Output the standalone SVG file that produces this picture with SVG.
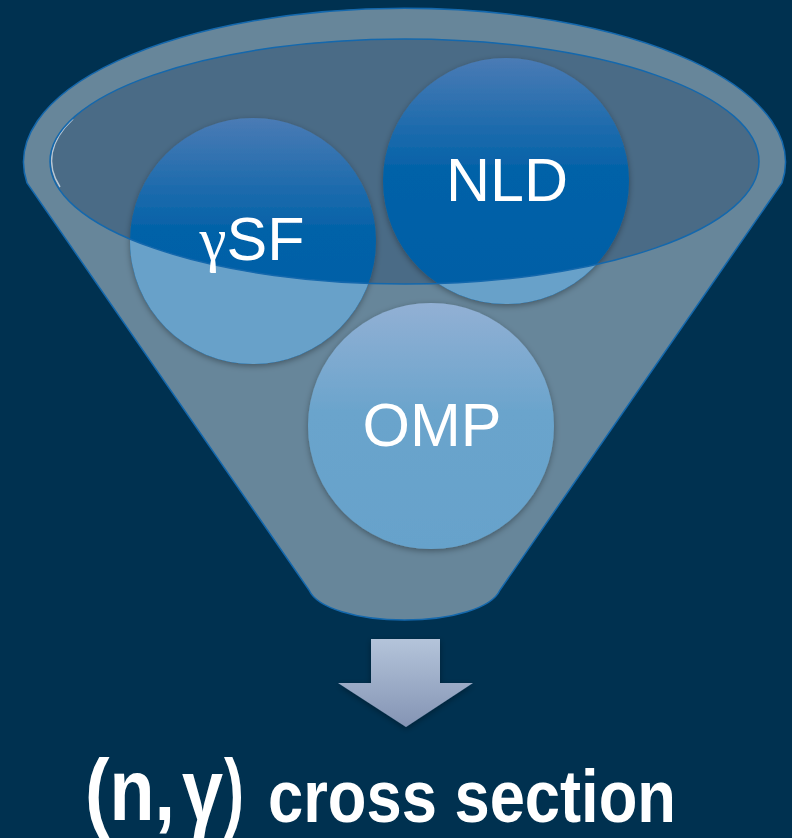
<svg xmlns="http://www.w3.org/2000/svg" width="792" height="838" viewBox="0 0 792 838">
<style>
.lbl{font-family:"Liberation Sans",Arial,sans-serif;font-size:61px;fill:#ffffff;text-anchor:middle}
.greek{font-family:"Liberation Serif","Times New Roman",serif}
.title{font-family:"Liberation Sans",Arial,sans-serif;font-weight:bold;fill:#ffffff}
.rim{fill:none;stroke:#1468ad;stroke-width:1.5}
</style>
<defs>
<linearGradient id="gDark" x1="0" y1="0" x2="0" y2="1">
<stop offset="0" stop-color="#4a7bb5"/>
<stop offset="0.45" stop-color="#0462a8"/>
<stop offset="1" stop-color="#005ea6"/>
</linearGradient>
<linearGradient id="gOmp" x1="0" y1="0" x2="0" y2="1">
<stop offset="0" stop-color="#92b0d4"/>
<stop offset="0.45" stop-color="#6aa4cc"/>
<stop offset="1" stop-color="#66a2cb"/>
</linearGradient>
<linearGradient id="gArrow" x1="0" y1="0" x2="0" y2="1">
<stop offset="0" stop-color="#b4c4da"/>
<stop offset="1" stop-color="#8494b4"/>
</linearGradient>
<clipPath id="below">
<path clip-rule="evenodd" d="M0,0H792V838H0Z M50,161.5 A354.5,122.5 0 1 0 759,161.5 A354.5,122.5 0 1 0 50,161.5Z"/>
</clipPath>
<filter id="sh" x="-20%" y="-20%" width="140%" height="140%">
<feDropShadow dx="0" dy="2" stdDeviation="3" flood-color="#000" flood-opacity="0.35"/>
</filter>
</defs>
<rect width="792" height="838" fill="#003150"/>
<g id="funnel">
<path d="M27,183 A381,154 0 1 1 782,183 L500,590 C492,608 452,620 404.5,620 C357,620 317,608 309,590 Z" fill="#67869a" stroke="#1468ad" stroke-width="1.5"/>
<ellipse cx="404.5" cy="161.5" rx="354.5" ry="122.5" fill="#4a6b86"/>
<path d="M73,119 A353,121 0 0 0 60,187" fill="none" stroke="#c4d2de" stroke-width="1.5" stroke-opacity="0.9"/>
</g>
<g id="node-gsf">
<circle cx="253" cy="241" r="123" fill="url(#gDark)" filter="url(#sh)"/>
<circle cx="253" cy="241" r="123" fill="#68a1c9" clip-path="url(#below)"/>
</g>
<g id="node-nld">
<circle cx="506" cy="181" r="123" fill="url(#gDark)" filter="url(#sh)"/>
<circle cx="506" cy="181" r="123" fill="#68a1c9" clip-path="url(#below)"/>
</g>
<g id="node-omp">
<circle cx="431" cy="426" r="123" fill="url(#gOmp)" filter="url(#sh)"/>
</g>
<ellipse class="rim" cx="404.5" cy="161.5" rx="354.5" ry="122.5"/>
<text class="lbl" x="252" y="260"><tspan class="greek">γ</tspan>SF</text>
<text class="lbl" x="507" y="201">NLD</text>
<text class="lbl" x="432" y="446">OMP</text>
<g id="connectors">
<path d="M371,639 H440 V683 H473 L406,727 L338,683 H371 Z" fill="url(#gArrow)" filter="url(#sh)"/>
</g>
<g id="label">
<text class="title" x="85" y="820" font-size="88" textLength="90" lengthAdjust="spacingAndGlyphs">(n,</text>
<text class="title greek" x="182" y="820" font-size="88" textLength="41" lengthAdjust="spacingAndGlyphs">γ</text>
<text class="title" x="224" y="820" font-size="88" textLength="20" lengthAdjust="spacingAndGlyphs">)</text>
<text class="title" x="268" y="822" font-size="74" textLength="408" lengthAdjust="spacingAndGlyphs">cross section</text>
</g>
</svg>
